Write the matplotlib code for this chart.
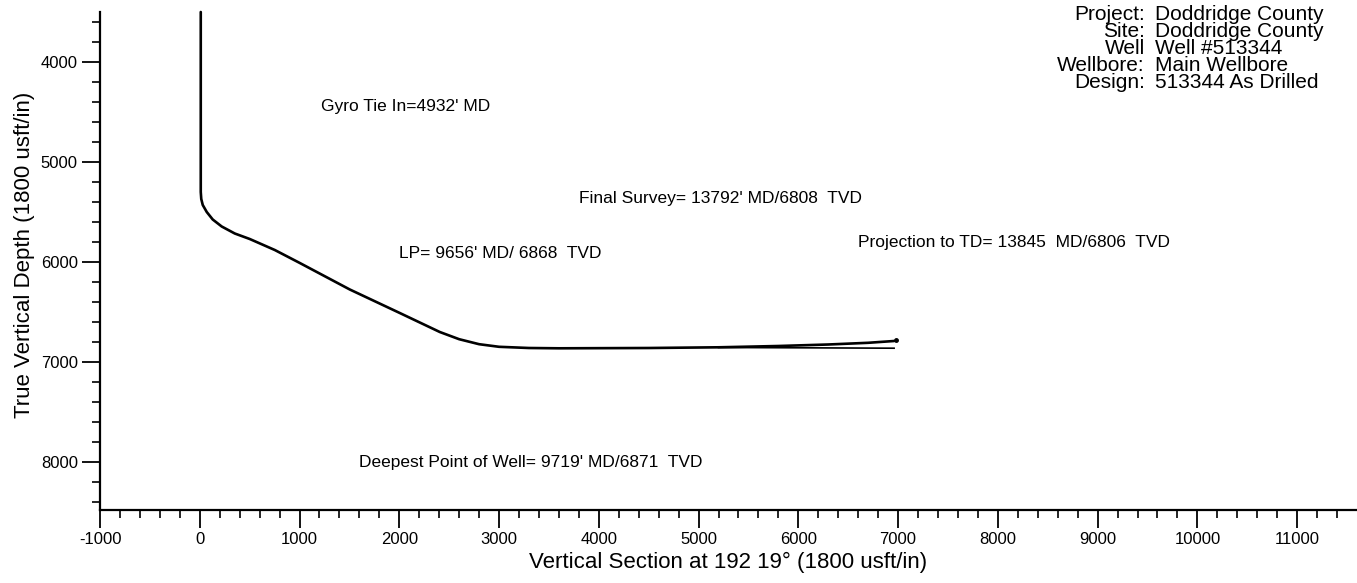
import matplotlib.pyplot as plt
from matplotlib.ticker import FixedLocator

plt.rcParams['font.family'] = ['Liberation Sans', 'DejaVu Sans']
plt.rcParams['axes.unicode_minus'] = False

# wellbore path as drilled (vertical section, TVD)
vs = [10, 10, 15, 30, 70, 130, 220, 351, 501, 752, 1003, 1504, 2005, 2406,
      2600, 2800, 3000, 3300, 3600, 4500, 5200, 5800, 6300, 6700, 6960]
tvd = [3500, 5300, 5370, 5430, 5500, 5575, 5645, 5715, 5770, 5880, 6010, 6275,
       6510, 6700, 6772, 6822, 6848, 6860, 6863, 6860, 6853, 6840, 6825, 6808,
       6790]

# second lateral trace near the end
vs2 = [5200, 6000, 6960]
tvd2 = [6855, 6858, 6862]

# projection to TD
proj_vs = [6975]
proj_tvd = [6775]

info_labels = ['Project:', 'Site:', 'Well', 'Wellbore:', 'Design:']
info_values = ['Doddridge County', 'Doddridge County', 'Well #513344',
               'Main Wellbore', '513344 As Drilled']

notes = ["Gyro Tie In=4932' MD",
         "Final Survey= 13792' MD/6808  TVD",
         "LP= 9656' MD/ 6868  TVD",
         "Projection to TD= 13845  MD/6806  TVD",
         "Deepest Point of Well= 9719' MD/6871  TVD"]
note_x = [1220, 3800, 2000, 6600, 1600]
note_y = [4440, 5360, 5910, 5800, 8000]

W, H = 1357, 583
fig = plt.figure(figsize=(W / 100, H / 100), dpi=100)
ax = fig.add_axes([100 / W, 1 - 510 / H, 1 - 100 / W, 510 / H])

ax.plot(vs, tvd, color='black', lw=1.9, solid_capstyle='round',
        solid_joinstyle='round')
ax.plot(vs2, tvd2, color='black', lw=1.2)
ax.plot(proj_vs, proj_tvd, 'o', color='black', ms=2.5)

ax.set_xlim(-1000, 11600)
ax.set_ylim(8480, 3380)

ax.spines['top'].set_visible(False)
ax.spines['right'].set_visible(False)
ax.spines['left'].set_bounds(8480, 3500)
ax.spines['left'].set_linewidth(1.6)
ax.spines['bottom'].set_linewidth(1.6)

ax.set_xticks(range(-1000, 12000, 1000))
ax.xaxis.set_minor_locator(FixedLocator(range(-800, 11600, 200)))
ax.set_yticks([4000, 5000, 6000, 7000, 8000])
ax.yaxis.set_minor_locator(FixedLocator(range(3600, 8480, 200)))
ax.tick_params(which='major', direction='out', length=13, width=1.3,
               labelsize=12, pad=3)
ax.tick_params(which='minor', direction='out', length=6, width=1.2)

ax.set_xlabel('Vertical Section at 192 19° (1800 usft/in)', fontsize=16,
              labelpad=3)
ax.set_ylabel('True Vertical Depth (1800 usft/in)', fontsize=16, labelpad=4)

for t, x, y in zip(notes, note_x, note_y):
    ax.text(x, y, t, fontsize=12.5, ha='left', va='center')

for i, (lab, val) in enumerate(zip(info_labels, info_values)):
    y = 1 - (14 + i * 17.2) / H
    fig.text(1145 / W, y, lab, fontsize=15, ha='right', va='center')
    fig.text(1155 / W, y, val, fontsize=15, ha='left', va='center')

fig.savefig('out.png', dpi=100)
